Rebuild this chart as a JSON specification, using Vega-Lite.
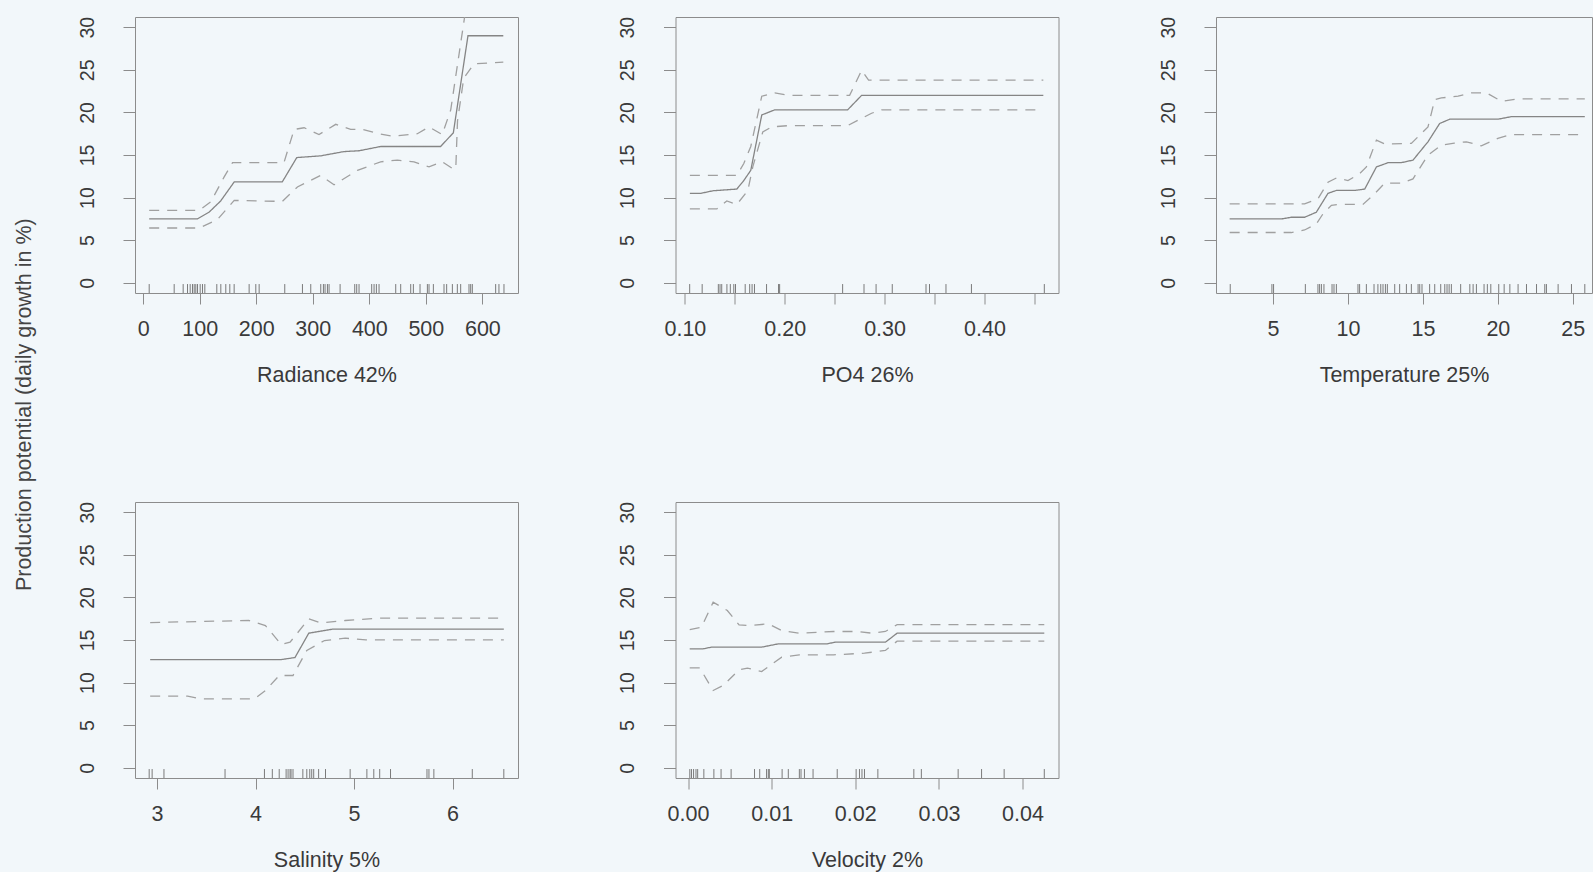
{
  "$schema": "https://vega.github.io/schema/vega-lite/v6.json",
  "usermeta": {"embedOptions": {"actions": false}},
  "background": "#f2f7fa",
  "padding": {"left": 13, "top": 15, "right": 0, "bottom": 0},
  "title": {"text": "Production potential (daily growth in %)", "orient": "left", "anchor": "middle", "fontSize": 21.5, "font": "Liberation Sans", "fontWeight": "normal", "color": "#444444", "offset": 41, "dx": 39},
  "config": {
    "view": {"stroke": "#8c8c8c", "strokeWidth": 1},
    "axis": {"grid": false, "domain": false, "tickColor": "#8c8c8c", "labelFont": "Liberation Sans", "labelFontSize": 21.5, "labelColor": "#3a3a3a", "titleFont": "Liberation Sans", "titleFontSize": 21.5, "titleFontWeight": "normal", "titleColor": "#3a3a3a", "labelFlush": false, "labelOverlap": false},
    "axisX": {"tickSize": 11, "labelPadding": 14, "titlePadding": 25},
    "axisY": {"tickSize": 12, "labelAngle": -90, "labelAlign": "center", "labelBaseline": "alphabetic", "labelPadding": 30, "labelFontSize": 19.5}
  },
  "datasets": {
    "curves": [
      {"p":"Radiance","s":"fit","x":10.6,"y":7.5},{"p":"Radiance","s":"fit","x":96,"y":7.5},{"p":"Radiance","s":"fit","x":116.7,"y":8.3},{"p":"Radiance","s":"fit","x":137,"y":9.6},{"p":"Radiance","s":"fit","x":161,"y":11.84},{"p":"Radiance","s":"fit","x":246,"y":11.84},{"p":"Radiance","s":"fit","x":271.7,"y":14.7},{"p":"Radiance","s":"fit","x":314,"y":14.9},{"p":"Radiance","s":"fit","x":355,"y":15.4},{"p":"Radiance","s":"fit","x":382,"y":15.5},{"p":"Radiance","s":"fit","x":420,"y":16.0},{"p":"Radiance","s":"fit","x":526,"y":16.0},{"p":"Radiance","s":"fit","x":548.6,"y":17.6},{"p":"Radiance","s":"fit","x":574.5,"y":29.0},{"p":"Radiance","s":"fit","x":637,"y":29.0},
      {"p":"Radiance","s":"upper","x":10.6,"y":8.5},{"p":"Radiance","s":"upper","x":99,"y":8.5},{"p":"Radiance","s":"upper","x":119.6,"y":9.5},{"p":"Radiance","s":"upper","x":143,"y":12.4},{"p":"Radiance","s":"upper","x":158,"y":14.1},{"p":"Radiance","s":"upper","x":249,"y":14.1},{"p":"Radiance","s":"upper","x":267,"y":18.0},{"p":"Radiance","s":"upper","x":284.6,"y":18.2},{"p":"Radiance","s":"upper","x":311,"y":17.4},{"p":"Radiance","s":"upper","x":340.6,"y":18.6},{"p":"Radiance","s":"upper","x":367,"y":18.0},{"p":"Radiance","s":"upper","x":387.7,"y":18.0},{"p":"Radiance","s":"upper","x":417,"y":17.5},{"p":"Radiance","s":"upper","x":440.8,"y":17.2},{"p":"Radiance","s":"upper","x":485,"y":17.5},{"p":"Radiance","s":"upper","x":505.6,"y":18.3},{"p":"Radiance","s":"upper","x":529,"y":17.4},{"p":"Radiance","s":"upper","x":544,"y":20.3},{"p":"Radiance","s":"upper","x":569,"y":31.4},{"p":"Radiance","s":"upper","x":580,"y":34},{"p":"Radiance","s":"upper","x":637,"y":34},
      {"p":"Radiance","s":"lower","x":10.6,"y":6.43},{"p":"Radiance","s":"lower","x":99,"y":6.43},{"p":"Radiance","s":"lower","x":131,"y":7.4},{"p":"Radiance","s":"lower","x":161,"y":9.67},{"p":"Radiance","s":"lower","x":246,"y":9.55},{"p":"Radiance","s":"lower","x":272.8,"y":11.25},{"p":"Radiance","s":"lower","x":314,"y":12.6},{"p":"Radiance","s":"lower","x":337.6,"y":11.5},{"p":"Radiance","s":"lower","x":379,"y":13.2},{"p":"Radiance","s":"lower","x":420,"y":14.2},{"p":"Radiance","s":"lower","x":449.6,"y":14.4},{"p":"Radiance","s":"lower","x":479,"y":14.2},{"p":"Radiance","s":"lower","x":505.6,"y":13.6},{"p":"Radiance","s":"lower","x":529,"y":14.2},{"p":"Radiance","s":"lower","x":549.8,"y":13.3},{"p":"Radiance","s":"lower","x":553,"y":13.5},{"p":"Radiance","s":"lower","x":556,"y":19.0},{"p":"Radiance","s":"lower","x":567,"y":24.0},{"p":"Radiance","s":"lower","x":585,"y":25.7},{"p":"Radiance","s":"lower","x":637,"y":25.9},
      {"p":"PO4","s":"fit","x":0.105,"y":10.5},{"p":"PO4","s":"fit","x":0.116,"y":10.5},{"p":"PO4","s":"fit","x":0.128,"y":10.8},{"p":"PO4","s":"fit","x":0.152,"y":11.0},{"p":"PO4","s":"fit","x":0.159,"y":12.0},{"p":"PO4","s":"fit","x":0.166,"y":13.2},{"p":"PO4","s":"fit","x":0.177,"y":19.7},{"p":"PO4","s":"fit","x":0.190,"y":20.3},{"p":"PO4","s":"fit","x":0.263,"y":20.3},{"p":"PO4","s":"fit","x":0.277,"y":22.0},{"p":"PO4","s":"fit","x":0.459,"y":22.0},
      {"p":"PO4","s":"upper","x":0.105,"y":12.6},{"p":"PO4","s":"upper","x":0.142,"y":12.6},{"p":"PO4","s":"upper","x":0.152,"y":12.6},{"p":"PO4","s":"upper","x":0.159,"y":14.0},{"p":"PO4","s":"upper","x":0.166,"y":16.0},{"p":"PO4","s":"upper","x":0.177,"y":21.9},{"p":"PO4","s":"upper","x":0.190,"y":22.3},{"p":"PO4","s":"upper","x":0.204,"y":22.0},{"p":"PO4","s":"upper","x":0.265,"y":22.0},{"p":"PO4","s":"upper","x":0.277,"y":24.95},{"p":"PO4","s":"upper","x":0.284,"y":23.8},{"p":"PO4","s":"upper","x":0.459,"y":23.8},
      {"p":"PO4","s":"lower","x":0.105,"y":8.67},{"p":"PO4","s":"lower","x":0.132,"y":8.67},{"p":"PO4","s":"lower","x":0.142,"y":9.6},{"p":"PO4","s":"lower","x":0.152,"y":9.2},{"p":"PO4","s":"lower","x":0.163,"y":10.8},{"p":"PO4","s":"lower","x":0.168,"y":13.6},{"p":"PO4","s":"lower","x":0.178,"y":17.7},{"p":"PO4","s":"lower","x":0.187,"y":18.3},{"p":"PO4","s":"lower","x":0.204,"y":18.45},{"p":"PO4","s":"lower","x":0.263,"y":18.45},{"p":"PO4","s":"lower","x":0.287,"y":19.9},{"p":"PO4","s":"lower","x":0.297,"y":20.3},{"p":"PO4","s":"lower","x":0.459,"y":20.3},
      {"p":"Temperature","s":"fit","x":2.11,"y":7.49},{"p":"Temperature","s":"fit","x":5.56,"y":7.49},{"p":"Temperature","s":"fit","x":6.22,"y":7.69},{"p":"Temperature","s":"fit","x":7.11,"y":7.69},{"p":"Temperature","s":"fit","x":7.89,"y":8.28},{"p":"Temperature","s":"fit","x":8.67,"y":10.5},{"p":"Temperature","s":"fit","x":9.23,"y":10.84},{"p":"Temperature","s":"fit","x":10.45,"y":10.84},{"p":"Temperature","s":"fit","x":11.12,"y":11.0},{"p":"Temperature","s":"fit","x":11.9,"y":13.6},{"p":"Temperature","s":"fit","x":12.68,"y":14.1},{"p":"Temperature","s":"fit","x":13.56,"y":14.1},{"p":"Temperature","s":"fit","x":14.34,"y":14.4},{"p":"Temperature","s":"fit","x":15.34,"y":16.55},{"p":"Temperature","s":"fit","x":16.12,"y":18.7},{"p":"Temperature","s":"fit","x":16.79,"y":19.2},{"p":"Temperature","s":"fit","x":20.0,"y":19.2},{"p":"Temperature","s":"fit","x":20.9,"y":19.5},{"p":"Temperature","s":"fit","x":25.8,"y":19.5},
      {"p":"Temperature","s":"upper","x":2.11,"y":9.26},{"p":"Temperature","s":"upper","x":7.11,"y":9.26},{"p":"Temperature","s":"upper","x":8.0,"y":9.85},{"p":"Temperature","s":"upper","x":8.67,"y":11.8},{"p":"Temperature","s":"upper","x":9.23,"y":12.3},{"p":"Temperature","s":"upper","x":10.0,"y":12.0},{"p":"Temperature","s":"upper","x":10.78,"y":12.8},{"p":"Temperature","s":"upper","x":11.23,"y":13.6},{"p":"Temperature","s":"upper","x":11.9,"y":16.75},{"p":"Temperature","s":"upper","x":12.45,"y":16.3},{"p":"Temperature","s":"upper","x":14.23,"y":16.36},{"p":"Temperature","s":"upper","x":15.34,"y":18.3},{"p":"Temperature","s":"upper","x":15.79,"y":21.5},{"p":"Temperature","s":"upper","x":16.23,"y":21.7},{"p":"Temperature","s":"upper","x":17.35,"y":21.9},{"p":"Temperature","s":"upper","x":18.24,"y":22.3},{"p":"Temperature","s":"upper","x":19.24,"y":22.3},{"p":"Temperature","s":"upper","x":20.24,"y":21.3},{"p":"Temperature","s":"upper","x":21.35,"y":21.6},{"p":"Temperature","s":"upper","x":25.8,"y":21.6},
      {"p":"Temperature","s":"lower","x":2.11,"y":5.9},{"p":"Temperature","s":"lower","x":6.22,"y":5.9},{"p":"Temperature","s":"lower","x":7.11,"y":6.2},{"p":"Temperature","s":"lower","x":7.89,"y":6.9},{"p":"Temperature","s":"lower","x":8.34,"y":8.1},{"p":"Temperature","s":"lower","x":8.9,"y":9.1},{"p":"Temperature","s":"lower","x":9.34,"y":9.2},{"p":"Temperature","s":"lower","x":11.0,"y":9.2},{"p":"Temperature","s":"lower","x":11.67,"y":10.25},{"p":"Temperature","s":"lower","x":12.45,"y":11.7},{"p":"Temperature","s":"lower","x":13.56,"y":11.7},{"p":"Temperature","s":"lower","x":14.34,"y":12.2},{"p":"Temperature","s":"lower","x":15.34,"y":14.98},{"p":"Temperature","s":"lower","x":16.23,"y":16.16},{"p":"Temperature","s":"lower","x":17.1,"y":16.4},{"p":"Temperature","s":"lower","x":17.9,"y":16.55},{"p":"Temperature","s":"lower","x":18.9,"y":16.08},{"p":"Temperature","s":"lower","x":20.0,"y":16.95},{"p":"Temperature","s":"lower","x":20.9,"y":17.4},{"p":"Temperature","s":"lower","x":25.8,"y":17.4},
      {"p":"Salinity","s":"fit","x":2.93,"y":12.7},{"p":"Salinity","s":"fit","x":4.26,"y":12.7},{"p":"Salinity","s":"fit","x":4.40,"y":12.94},{"p":"Salinity","s":"fit","x":4.54,"y":15.8},{"p":"Salinity","s":"fit","x":4.78,"y":16.27},{"p":"Salinity","s":"fit","x":6.52,"y":16.27},
      {"p":"Salinity","s":"upper","x":2.93,"y":17.05},{"p":"Salinity","s":"upper","x":3.93,"y":17.29},{"p":"Salinity","s":"upper","x":4.10,"y":16.7},{"p":"Salinity","s":"upper","x":4.26,"y":14.47},{"p":"Salinity","s":"upper","x":4.35,"y":14.74},{"p":"Salinity","s":"upper","x":4.54,"y":17.48},{"p":"Salinity","s":"upper","x":4.66,"y":17.0},{"p":"Salinity","s":"upper","x":4.91,"y":17.29},{"p":"Salinity","s":"upper","x":5.26,"y":17.56},{"p":"Salinity","s":"upper","x":6.52,"y":17.56},
      {"p":"Salinity","s":"lower","x":2.93,"y":8.41},{"p":"Salinity","s":"lower","x":3.31,"y":8.41},{"p":"Salinity","s":"lower","x":3.44,"y":8.1},{"p":"Salinity","s":"lower","x":3.99,"y":8.1},{"p":"Salinity","s":"lower","x":4.10,"y":9.07},{"p":"Salinity","s":"lower","x":4.24,"y":10.83},{"p":"Salinity","s":"lower","x":4.38,"y":10.83},{"p":"Salinity","s":"lower","x":4.52,"y":13.77},{"p":"Salinity","s":"lower","x":4.70,"y":14.94},{"p":"Salinity","s":"lower","x":4.91,"y":15.21},{"p":"Salinity","s":"lower","x":5.12,"y":15.02},{"p":"Salinity","s":"lower","x":6.52,"y":15.02},
      {"p":"Velocity","s":"fit","x":0.0002,"y":13.96},{"p":"Velocity","s":"fit","x":0.0018,"y":13.96},{"p":"Velocity","s":"fit","x":0.0028,"y":14.16},{"p":"Velocity","s":"fit","x":0.0088,"y":14.16},{"p":"Velocity","s":"fit","x":0.0108,"y":14.55},{"p":"Velocity","s":"fit","x":0.0166,"y":14.55},{"p":"Velocity","s":"fit","x":0.0176,"y":14.74},{"p":"Velocity","s":"fit","x":0.0236,"y":14.74},{"p":"Velocity","s":"fit","x":0.0250,"y":15.8},{"p":"Velocity","s":"fit","x":0.0426,"y":15.8},
      {"p":"Velocity","s":"upper","x":0.0002,"y":16.23},{"p":"Velocity","s":"upper","x":0.0016,"y":16.5},{"p":"Velocity","s":"upper","x":0.0030,"y":19.44},{"p":"Velocity","s":"upper","x":0.0047,"y":18.46},{"p":"Velocity","s":"upper","x":0.0061,"y":16.77},{"p":"Velocity","s":"upper","x":0.0075,"y":16.7},{"p":"Velocity","s":"upper","x":0.0096,"y":16.9},{"p":"Velocity","s":"upper","x":0.0112,"y":16.11},{"p":"Velocity","s":"upper","x":0.0133,"y":15.8},{"p":"Velocity","s":"upper","x":0.0174,"y":16.0},{"p":"Velocity","s":"upper","x":0.0203,"y":16.0},{"p":"Velocity","s":"upper","x":0.0220,"y":15.8},{"p":"Velocity","s":"upper","x":0.0236,"y":16.0},{"p":"Velocity","s":"upper","x":0.0250,"y":16.8},{"p":"Velocity","s":"upper","x":0.0426,"y":16.8},
      {"p":"Velocity","s":"lower","x":0.0002,"y":11.73},{"p":"Velocity","s":"lower","x":0.0014,"y":11.73},{"p":"Velocity","s":"lower","x":0.0030,"y":9.07},{"p":"Velocity","s":"lower","x":0.0042,"y":9.66},{"p":"Velocity","s":"lower","x":0.0061,"y":11.5},{"p":"Velocity","s":"lower","x":0.0071,"y":11.7},{"p":"Velocity","s":"lower","x":0.0088,"y":11.3},{"p":"Velocity","s":"lower","x":0.0112,"y":12.98},{"p":"Velocity","s":"lower","x":0.0133,"y":13.26},{"p":"Velocity","s":"lower","x":0.0174,"y":13.26},{"p":"Velocity","s":"lower","x":0.0211,"y":13.45},{"p":"Velocity","s":"lower","x":0.0236,"y":13.77},{"p":"Velocity","s":"lower","x":0.0250,"y":14.86},{"p":"Velocity","s":"lower","x":0.0426,"y":14.86}
    ],
    "rug": [
      {"p":"Radiance","x":10.6},{"p":"Radiance","x":54.8},{"p":"Radiance","x":70.7},{"p":"Radiance","x":78.4},{"p":"Radiance","x":83.1},{"p":"Radiance","x":87.2},{"p":"Radiance","x":90.2},{"p":"Radiance","x":93.1},{"p":"Radiance","x":96.1},{"p":"Radiance","x":100.8},{"p":"Radiance","x":104.9},{"p":"Radiance","x":109.0},{"p":"Radiance","x":130.2},{"p":"Radiance","x":137.3},{"p":"Radiance","x":146.1},{"p":"Radiance","x":153.2},{"p":"Radiance","x":160.9},{"p":"Radiance","x":187.4},{"p":"Radiance","x":199.2},{"p":"Radiance","x":205.1},{"p":"Radiance","x":250.4},{"p":"Radiance","x":281.7},{"p":"Radiance","x":296.4},{"p":"Radiance","x":314.1},{"p":"Radiance","x":318.8},{"p":"Radiance","x":321.7},{"p":"Radiance","x":325.9},{"p":"Radiance","x":328.8},{"p":"Radiance","x":348.3},{"p":"Radiance","x":374.2},{"p":"Radiance","x":377.7},{"p":"Radiance","x":381.8},{"p":"Radiance","x":404.2},{"p":"Radiance","x":408.4},{"p":"Radiance","x":412.5},{"p":"Radiance","x":417.2},{"p":"Radiance","x":446.7},{"p":"Radiance","x":455.5},{"p":"Radiance","x":473.2},{"p":"Radiance","x":477.9},{"p":"Radiance","x":489.7},{"p":"Radiance","x":502.7},{"p":"Radiance","x":505.6},{"p":"Radiance","x":513.3},{"p":"Radiance","x":532.1},{"p":"Radiance","x":536.8},{"p":"Radiance","x":546.9},{"p":"Radiance","x":555.7},{"p":"Radiance","x":561.6},{"p":"Radiance","x":576.3},{"p":"Radiance","x":579.3},{"p":"Radiance","x":582.2},{"p":"Radiance","x":623.5},{"p":"Radiance","x":629.3},{"p":"Radiance","x":638.2},
      {"p":"PO4","x":0.1048},{"p":"PO4","x":0.1173},{"p":"PO4","x":0.1335},{"p":"PO4","x":0.1352},{"p":"PO4","x":0.1369},{"p":"PO4","x":0.1421},{"p":"PO4","x":0.1455},{"p":"PO4","x":0.149},{"p":"PO4","x":0.1507},{"p":"PO4","x":0.1604},{"p":"PO4","x":0.1649},{"p":"PO4","x":0.1673},{"p":"PO4","x":0.1697},{"p":"PO4","x":0.1818},{"p":"PO4","x":0.1938},{"p":"PO4","x":0.1949},{"p":"PO4","x":0.258},{"p":"PO4","x":0.2794},{"p":"PO4","x":0.2915},{"p":"PO4","x":0.3077},{"p":"PO4","x":0.3415},{"p":"PO4","x":0.345},{"p":"PO4","x":0.3615},{"p":"PO4","x":0.387},{"p":"PO4","x":0.46},
      {"p":"Temperature","x":2.15},{"p":"Temperature","x":4.93},{"p":"Temperature","x":5.04},{"p":"Temperature","x":7.16},{"p":"Temperature","x":8.0},{"p":"Temperature","x":8.11},{"p":"Temperature","x":8.23},{"p":"Temperature","x":8.4},{"p":"Temperature","x":8.94},{"p":"Temperature","x":9.07},{"p":"Temperature","x":9.23},{"p":"Temperature","x":10.67},{"p":"Temperature","x":10.78},{"p":"Temperature","x":11.23},{"p":"Temperature","x":11.74},{"p":"Temperature","x":12.0},{"p":"Temperature","x":12.19},{"p":"Temperature","x":12.34},{"p":"Temperature","x":12.5},{"p":"Temperature","x":12.63},{"p":"Temperature","x":13.12},{"p":"Temperature","x":13.45},{"p":"Temperature","x":13.9},{"p":"Temperature","x":14.23},{"p":"Temperature","x":14.68},{"p":"Temperature","x":14.79},{"p":"Temperature","x":14.94},{"p":"Temperature","x":15.45},{"p":"Temperature","x":15.79},{"p":"Temperature","x":16.19},{"p":"Temperature","x":16.46},{"p":"Temperature","x":16.61},{"p":"Temperature","x":16.75},{"p":"Temperature","x":16.9},{"p":"Temperature","x":17.52},{"p":"Temperature","x":18.13},{"p":"Temperature","x":18.35},{"p":"Temperature","x":18.57},{"p":"Temperature","x":19.08},{"p":"Temperature","x":19.3},{"p":"Temperature","x":19.53},{"p":"Temperature","x":20.06},{"p":"Temperature","x":20.42},{"p":"Temperature","x":20.8},{"p":"Temperature","x":21.35},{"p":"Temperature","x":21.91},{"p":"Temperature","x":22.58},{"p":"Temperature","x":23.13},{"p":"Temperature","x":23.24},{"p":"Temperature","x":24.02},{"p":"Temperature","x":24.91},{"p":"Temperature","x":25.8},
      {"p":"Salinity","x":2.92},{"p":"Salinity","x":2.95},{"p":"Salinity","x":3.07},{"p":"Salinity","x":3.69},{"p":"Salinity","x":4.09},{"p":"Salinity","x":4.17},{"p":"Salinity","x":4.24},{"p":"Salinity","x":4.31},{"p":"Salinity","x":4.33},{"p":"Salinity","x":4.35},{"p":"Salinity","x":4.36},{"p":"Salinity","x":4.38},{"p":"Salinity","x":4.48},{"p":"Salinity","x":4.52},{"p":"Salinity","x":4.55},{"p":"Salinity","x":4.57},{"p":"Salinity","x":4.59},{"p":"Salinity","x":4.64},{"p":"Salinity","x":4.71},{"p":"Salinity","x":4.96},{"p":"Salinity","x":5.13},{"p":"Salinity","x":5.2},{"p":"Salinity","x":5.26},{"p":"Salinity","x":5.37},{"p":"Salinity","x":5.74},{"p":"Salinity","x":5.76},{"p":"Salinity","x":5.81},{"p":"Salinity","x":6.2},{"p":"Salinity","x":6.52},
      {"p":"Velocity","x":0.00021},{"p":"Velocity","x":0.00041},{"p":"Velocity","x":0.00066},{"p":"Velocity","x":0.00095},{"p":"Velocity","x":0.00115},{"p":"Velocity","x":0.00189},{"p":"Velocity","x":0.00309},{"p":"Velocity","x":0.00395},{"p":"Velocity","x":0.00515},{"p":"Velocity","x":0.00795},{"p":"Velocity","x":0.00857},{"p":"Velocity","x":0.00939},{"p":"Velocity","x":0.0096},{"p":"Velocity","x":0.00972},{"p":"Velocity","x":0.01125},{"p":"Velocity","x":0.01199},{"p":"Velocity","x":0.01331},{"p":"Velocity","x":0.01351},{"p":"Velocity","x":0.01392},{"p":"Velocity","x":0.01495},{"p":"Velocity","x":0.01784},{"p":"Velocity","x":0.0201},{"p":"Velocity","x":0.0205},{"p":"Velocity","x":0.0208},{"p":"Velocity","x":0.0211},{"p":"Velocity","x":0.0227},{"p":"Velocity","x":0.027},{"p":"Velocity","x":0.0279},{"p":"Velocity","x":0.0323},{"p":"Velocity","x":0.0351},{"p":"Velocity","x":0.0378},{"p":"Velocity","x":0.0426}
    ]
  },
  "columns": 3,
  "bounds": "flush",
  "align": "each",
  "spacing": {"row": 209, "column": 157.5},
  "concat": [
    {
      "width": 383, "height": 276,
      "layer": [
        {"data": {"name": "curves"}, "transform": [{"filter": "datum.p === 'Radiance'"}],
         "mark": {"type": "line", "clip": true, "strokeWidth": 1.3},
         "encoding": {
           "x": {"field": "x", "type": "quantitative", "title": "Radiance 42%", "scale": {"domain": [-14.5, 663], "nice": false, "zero": false}, "axis": {"values": [0,100,200,300,400,500,600], "format": "d"}},
           "y": {"field": "y", "type": "quantitative", "title": null, "scale": {"domain": [-1.2, 31.2], "nice": false, "zero": false}, "axis": {"values": [0,5,10,15,20,25,30]}},
           "color": {"field": "s", "type": "nominal", "scale": {"domain": ["fit","upper","lower"], "range": ["#858585","#a0a0a0","#a0a0a0"]}, "legend": null},
           "strokeDash": {"field": "s", "type": "nominal", "scale": {"domain": ["fit","upper","lower"], "range": [[1,0],[10,8],[10,8]]}, "legend": null}
         }},
        {"data": {"name": "rug"}, "transform": [{"filter": "datum.p === 'Radiance'"}],
         "mark": {"type": "rule", "color": "#7a7a7a", "strokeWidth": 1},
         "encoding": {"x": {"field": "x", "type": "quantitative"}, "y": {"datum": -1.2}, "y2": {"datum": -0.15}}}
      ]
    },
    {
      "width": 383, "height": 276,
      "layer": [
        {"data": {"name": "curves"}, "transform": [{"filter": "datum.p === 'PO4'"}],
         "mark": {"type": "line", "clip": true, "strokeWidth": 1.3},
         "encoding": {
           "x": {"field": "x", "type": "quantitative", "title": "PO4 26%", "scale": {"domain": [0.0906, 0.4742], "nice": false, "zero": false}, "axis": {"values": [0.10,0.15,0.20,0.25,0.30,0.35,0.40,0.45], "labelExpr": "round(datum.value*100) % 10 == 0 ? format(datum.value, '.2f') : ''"}},
           "y": {"field": "y", "type": "quantitative", "title": null, "scale": {"domain": [-1.2, 31.2], "nice": false, "zero": false}, "axis": {"values": [0,5,10,15,20,25,30]}},
           "color": {"field": "s", "type": "nominal", "scale": {"domain": ["fit","upper","lower"], "range": ["#858585","#a0a0a0","#a0a0a0"]}, "legend": null},
           "strokeDash": {"field": "s", "type": "nominal", "scale": {"domain": ["fit","upper","lower"], "range": [[1,0],[10,8],[10,8]]}, "legend": null}
         }},
        {"data": {"name": "rug"}, "transform": [{"filter": "datum.p === 'PO4'"}],
         "mark": {"type": "rule", "color": "#7a7a7a", "strokeWidth": 1},
         "encoding": {"x": {"field": "x", "type": "quantitative"}, "y": {"datum": -1.2}, "y2": {"datum": -0.15}}}
      ]
    },
    {
      "width": 376, "height": 276,
      "layer": [
        {"data": {"name": "curves"}, "transform": [{"filter": "datum.p === 'Temperature'"}],
         "mark": {"type": "line", "clip": true, "strokeWidth": 1.3},
         "encoding": {
           "x": {"field": "x", "type": "quantitative", "title": "Temperature 25%", "scale": {"domain": [1.2, 26.28], "nice": false, "zero": false}, "axis": {"values": [5,10,15,20,25], "format": "d"}},
           "y": {"field": "y", "type": "quantitative", "title": null, "scale": {"domain": [-1.2, 31.2], "nice": false, "zero": false}, "axis": {"values": [0,5,10,15,20,25,30]}},
           "color": {"field": "s", "type": "nominal", "scale": {"domain": ["fit","upper","lower"], "range": ["#858585","#a0a0a0","#a0a0a0"]}, "legend": null},
           "strokeDash": {"field": "s", "type": "nominal", "scale": {"domain": ["fit","upper","lower"], "range": [[1,0],[10,8],[10,8]]}, "legend": null}
         }},
        {"data": {"name": "rug"}, "transform": [{"filter": "datum.p === 'Temperature'"}],
         "mark": {"type": "rule", "color": "#7a7a7a", "strokeWidth": 1},
         "encoding": {"x": {"field": "x", "type": "quantitative"}, "y": {"datum": -1.2}, "y2": {"datum": -0.15}}}
      ]
    },
    {
      "width": 383, "height": 276,
      "layer": [
        {"data": {"name": "curves"}, "transform": [{"filter": "datum.p === 'Salinity'"}],
         "mark": {"type": "line", "clip": true, "strokeWidth": 1.3},
         "encoding": {
           "x": {"field": "x", "type": "quantitative", "title": "Salinity 5%", "scale": {"domain": [2.776, 6.664], "nice": false, "zero": false}, "axis": {"values": [3,4,5,6], "format": "d"}},
           "y": {"field": "y", "type": "quantitative", "title": null, "scale": {"domain": [-1.2, 31.2], "nice": false, "zero": false}, "axis": {"values": [0,5,10,15,20,25,30]}},
           "color": {"field": "s", "type": "nominal", "scale": {"domain": ["fit","upper","lower"], "range": ["#858585","#a0a0a0","#a0a0a0"]}, "legend": null},
           "strokeDash": {"field": "s", "type": "nominal", "scale": {"domain": ["fit","upper","lower"], "range": [[1,0],[10,8],[10,8]]}, "legend": null}
         }},
        {"data": {"name": "rug"}, "transform": [{"filter": "datum.p === 'Salinity'"}],
         "mark": {"type": "rule", "color": "#7a7a7a", "strokeWidth": 1},
         "encoding": {"x": {"field": "x", "type": "quantitative"}, "y": {"datum": -1.2}, "y2": {"datum": -0.15}}}
      ]
    },
    {
      "width": 383, "height": 276,
      "layer": [
        {"data": {"name": "curves"}, "transform": [{"filter": "datum.p === 'Velocity'"}],
         "mark": {"type": "line", "clip": true, "strokeWidth": 1.3},
         "encoding": {
           "x": {"field": "x", "type": "quantitative", "title": "Velocity 2%", "scale": {"domain": [-0.0015, 0.0443], "nice": false, "zero": false}, "axis": {"values": [0,0.01,0.02,0.03,0.04], "format": ".2f"}},
           "y": {"field": "y", "type": "quantitative", "title": null, "scale": {"domain": [-1.2, 31.2], "nice": false, "zero": false}, "axis": {"values": [0,5,10,15,20,25,30]}},
           "color": {"field": "s", "type": "nominal", "scale": {"domain": ["fit","upper","lower"], "range": ["#858585","#a0a0a0","#a0a0a0"]}, "legend": null},
           "strokeDash": {"field": "s", "type": "nominal", "scale": {"domain": ["fit","upper","lower"], "range": [[1,0],[10,8],[10,8]]}, "legend": null}
         }},
        {"data": {"name": "rug"}, "transform": [{"filter": "datum.p === 'Velocity'"}],
         "mark": {"type": "rule", "color": "#7a7a7a", "strokeWidth": 1},
         "encoding": {"x": {"field": "x", "type": "quantitative"}, "y": {"datum": -1.2}, "y2": {"datum": -0.15}}}
      ]
    }
  ]
}
